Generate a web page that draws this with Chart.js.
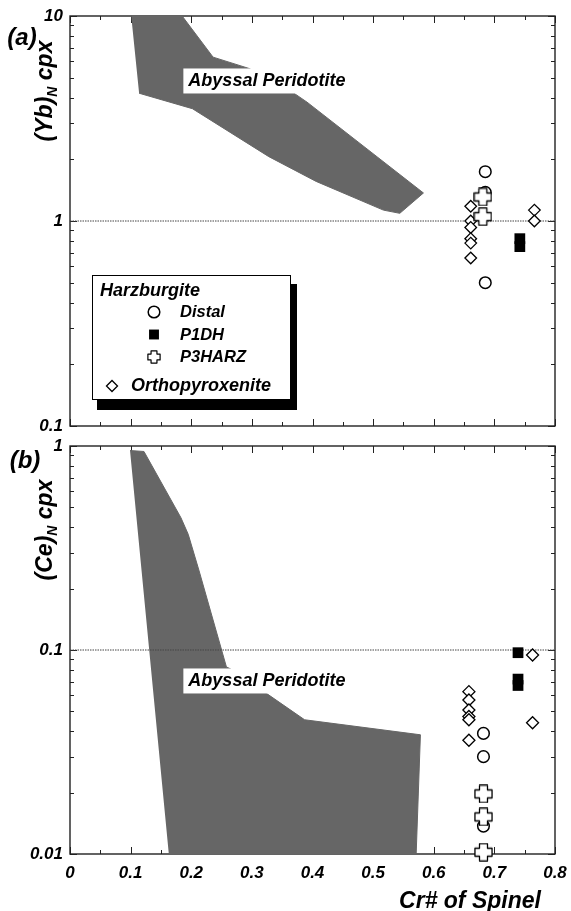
<!DOCTYPE html>
<html><head><meta charset="utf-8">
<script src="https://cdn.jsdelivr.net/npm/chart.js@4/dist/chart.umd.min.js"></script>
<style>
html,body{margin:0;padding:0;background:#fff;}
#wrap{position:relative;width:571px;height:911px;overflow:hidden;}
#a{position:absolute;left:0;top:0;}
#b{position:absolute;left:0;top:430px;}
</style></head><body>
<div id="wrap"><canvas id="a" width="571" height="440"></canvas><canvas id="b" width="571" height="481"></canvas></div>
<script>
// ---------- data ----------
const xTickLabels = ['0','0.1','0.2','0.3','0.4','0.5','0.6','0.7','0.8'];
const yTickLabelsA = ['0.1','1','10'];
const yTickLabelsB = ['0.01','0.1','1'];

// Panel (a): (Yb)N cpx
const abyssalAX = [0.101,0.185,0.236,0.295,0.35,0.391,0.583,0.544,0.517,0.406,0.328,0.202,0.114];
const abyssalAY = [10,10,6.3,5.55,4.6,3.8,1.37,1.09,1.13,1.56,2.06,3.53,4.2];
const distalAX = [0.685,0.685,0.685];
const distalAY = [1.74,1.38,0.50];
const p1dhAX = [0.742,0.742];
const p1dhAY = [0.82,0.75];
const p3harzAX = [0.681,0.681];
const p3harzAY = [1.31,1.05];
const orthoAX = [0.661,0.661,0.661,0.661,0.661,0.661,0.766,0.766];
const orthoAY = [1.18,1.0,0.93,0.82,0.78,0.66,1.13,1.0];
const refLineA = 1;

// Panel (b): (Ce)N cpx
const abyssalBX = [0.099,0.122,0.183,0.195,0.213,0.258,0.264,0.324,0.387,0.578,0.571,0.163];
const abyssalBY = [0.95,0.94,0.445,0.369,0.244,0.0826,0.081,0.0613,0.0455,0.0384,0.01,0.01];
const distalBX = [0.682,0.682,0.682];
const distalBY = [0.039,0.030,0.0137];
const p1dhBX = [0.739,0.739,0.739];
const p1dhBY = [0.097,0.072,0.067];
const p3harzBX = [0.682,0.682,0.682];
const p3harzBY = [0.0197,0.0152,0.0102];
const orthoBX = [0.658,0.658,0.658,0.658,0.658,0.658,0.763,0.763];
const orthoBY = [0.0625,0.0569,0.0508,0.0472,0.0455,0.0361,0.0945,0.044];
const refLineB = 0.1;

const xMin = 0, xMax = 0.8;

// ---------- helpers ----------
const FONT = "'Liberation Sans', Arial, Helvetica, sans-serif";
const pts = (xs, ys) => xs.map((x, i) => ({x: x, y: ys[i]}));

function makeCross(size, lw) {
  const c = document.createElement('canvas');
  c.width = size; c.height = size;
  const g = c.getContext('2d');
  const h = size / 2, a = size * 0.21, o = h - lw / 2 - 0.3;
  const p = [[-a,-o],[a,-o],[a,-a],[o,-a],[o,a],[a,a],[a,o],[-a,o],[-a,a],[-o,a],[-o,-a],[-a,-a]];
  g.beginPath();
  p.forEach((q, i) => { if (i === 0) g.moveTo(h + q[0], h + q[1]); else g.lineTo(h + q[0], h + q[1]); });
  g.closePath();
  g.fillStyle = '#fff'; g.fill();
  g.lineWidth = lw; g.strokeStyle = '#000'; g.lineJoin = 'round'; g.stroke();
  return c;
}
const crossBig = makeCross(19, 1.3);
const crossSmall = makeCross(14, 1.2);

function logTickValues(minE, maxE) {
  const out = [];
  for (let d = minE; d < maxE; d++) {
    for (let k = 1; k <= 9; k++) out.push(parseFloat((k * Math.pow(10, d)).toPrecision(6)));
  }
  out.push(Math.pow(10, maxE));
  return out;
}
function isPow10(v) { const e = Math.log10(v); return Math.abs(e - Math.round(e)) < 1e-6; }
function xTickValues() { const out = []; for (let i = 0; i <= 16; i++) out.push(Math.round(i * 5) / 100); return out; }

const frameTicks = {
  id: 'frameTicks',
  beforeDatasetsDraw(chart) {
    const ctx = chart.ctx, ca = chart.chartArea, x = chart.scales.x, y = chart.scales.y;
    ctx.save();
    ctx.strokeStyle = '#222'; ctx.lineWidth = 1;
    const line = (a, b, c, d) => { ctx.beginPath(); ctx.moveTo(a, b); ctx.lineTo(c, d); ctx.stroke(); };
    x.ticks.forEach((t, i) => {
      const px = Math.round(x.getPixelForValue(t.value)) + 0.5;
      const L = (i % 2 === 0) ? 7 : 4;
      line(px, ca.top, px, ca.top + L);
      line(px, ca.bottom, px, ca.bottom - L);
    });
    y.ticks.forEach(t => {
      const py = Math.round(y.getPixelForValue(t.value)) + 0.5;
      const L = isPow10(t.value) ? 7 : 4;
      line(ca.left, py, ca.left + L, py);
      line(ca.right, py, ca.right - L, py);
    });
    ctx.lineWidth = 1.4; ctx.strokeStyle = '#222';
    ctx.strokeRect(ca.left, ca.top, ca.right - ca.left, ca.bottom - ca.top);
    ctx.restore();
  }
};

function yTitle(ctx, cx, cy, main, sub, rest) {
  ctx.save();
  ctx.translate(cx, cy);
  ctx.rotate(-Math.PI / 2);
  ctx.fillStyle = '#000';
  ctx.textBaseline = 'alphabetic';
  ctx.textAlign = 'left';
  const f1 = "italic bold 23px " + FONT, f2 = "italic bold 14px " + FONT;
  ctx.font = f1; const w1 = ctx.measureText(main).width;
  ctx.font = f2; const w2 = ctx.measureText(sub).width;
  ctx.font = f1; const w3 = ctx.measureText(rest).width;
  let s = -(w1 + w2 + w3) / 2;
  ctx.font = f1; ctx.fillText(main, s, 0);
  ctx.font = f2; ctx.fillText(sub, s + w1, 5);
  ctx.font = f1; ctx.fillText(rest, s + w1 + w2, 0);
  ctx.restore();
}
function plainText(ctx, txt, x, y, size, align) {
  ctx.save();
  ctx.font = "italic bold " + size + "px " + FONT;
  ctx.fillStyle = '#000';
  ctx.textAlign = align || 'left';
  ctx.textBaseline = 'middle';
  ctx.fillText(txt, x, y);
  ctx.restore();
}
function labelBox(chart, xv0, xv1, yv, txt) {
  const ctx = chart.ctx, x = chart.scales.x, y = chart.scales.y;
  const px0 = x.getPixelForValue(xv0), px1 = x.getPixelForValue(xv1), py = y.getPixelForValue(yv);
  ctx.save();
  ctx.fillStyle = '#fff';
  ctx.fillRect(px0, py - 12.5, px1 - px0, 25);
  ctx.restore();
  plainText(ctx, txt, px0 + 5, py + 0.5, 18, 'left');
}

function baseOptions(yMinE, yMaxE, yLabels, showX, xHeight) {
  const tickFont = {family: FONT, size: 17, style: 'italic', weight: 'bold'};
  return {
    responsive: false,
    animation: false,
    events: [],
    layout: {padding: {top: 16, right: 16, left: 0, bottom: 0}},
    plugins: {legend: {display: false}, tooltip: {enabled: false}},
    scales: {
      x: {
        type: 'linear', min: xMin, max: xMax,
        grid: {display: false, drawTicks: false},
        border: {display: false},
        afterBuildTicks: s => { s.ticks = xTickValues().map(v => ({value: v})); },
        afterFit: s => { s.height = xHeight; s.paddingLeft = 0; s.paddingRight = 0; s.paddingTop = 0; s.paddingBottom = 0; },
        ticks: {
          display: showX, autoSkip: false, maxRotation: 0, padding: 9, color: '#000', font: tickFont,
          callback: (v, i) => (i % 2 === 0 ? xTickLabels[i / 2] : '')
        }
      },
      y: {
        type: 'logarithmic', min: Math.pow(10, yMinE), max: Math.pow(10, yMaxE),
        grid: {display: false, drawTicks: false},
        border: {display: false},
        afterBuildTicks: s => { s.ticks = logTickValues(yMinE, yMaxE).map(v => ({value: v})); },
        afterFit: s => { s.width = 70; s.paddingTop = 0; s.paddingBottom = 0; s.paddingLeft = 0; s.paddingRight = 0; },
        ticks: {
          autoSkip: false, padding: 7, color: '#000', font: tickFont,
          callback: v => (isPow10(v) ? yLabels[Math.round(Math.log10(v)) - yMinE] : '')
        }
      }
    }
  };
}

function datasets(polyX, polyY, refY, dX, dY, pX, pY, cX, cY, oX, oY, big) {
  return [
    {type: 'line', data: pts(polyX, polyY), fill: 'shape', backgroundColor: '#666666', borderColor: '#666666',
     borderWidth: 1, pointRadius: 0, tension: 0, order: 10},
    {type: 'line', data: [{x: xMin, y: refY}, {x: xMax, y: refY}], borderColor: '#444', borderWidth: 1,
     borderDash: [1.5, 1], pointRadius: 0, fill: false, order: 9},
    {type: 'scatter', data: pts(oX, oY), pointStyle: 'rectRot', pointRadius: big ? 6 : 5.8, backgroundColor: '#fff',
     borderColor: '#000', pointBorderWidth: 1.3, order: 5, clip: false},
    {type: 'scatter', data: pts(dX, dY), pointStyle: 'circle', pointRadius: 5.8, backgroundColor: '#fff',
     borderColor: '#000', pointBorderWidth: 1.5, order: 4, clip: false},
    {type: 'scatter', data: pts(pX, pY), pointStyle: 'rect', pointRadius: 7.6, backgroundColor: '#000',
     borderColor: '#000', pointBorderWidth: 0, order: 3, clip: false},
    {type: 'scatter', data: pts(cX, cY), pointStyle: crossBig, order: 2, clip: false}
  ];
}

// ---------- panel (a) ----------
const annotA = {
  id: 'annotA',
  afterDatasetsDraw(chart) {
    labelBox(chart, 0.187, 0.468, 4.82, 'Abyssal Peridotite');
  },
  afterDraw(chart) {
    const ctx = chart.ctx;
    yTitle(ctx, 52, 91, '(Yb)', 'N', ' cpx');
    plainText(ctx, '(a)', 22, 38, 24, 'center');
    // legend
    ctx.save();
    ctx.fillStyle = '#000';
    ctx.fillRect(97, 284, 200, 126);
    ctx.fillStyle = '#fff';
    ctx.fillRect(92, 275, 199, 125);
    ctx.strokeStyle = '#000'; ctx.lineWidth = 1;
    ctx.strokeRect(92.5, 275.5, 198, 124);
    ctx.restore();
    plainText(ctx, 'Harzburgite', 100, 291, 18, 'left');
    const H = Chart.helpers;
    ctx.save();
    ctx.fillStyle = '#fff'; ctx.strokeStyle = '#000'; ctx.lineWidth = 1.5;
    H.drawPoint(ctx, {pointStyle: 'circle', radius: 5.8, rotation: 0, borderWidth: 1.5}, 154, 312);
    ctx.fillStyle = '#000'; ctx.lineWidth = 0;
    H.drawPoint(ctx, {pointStyle: 'rect', radius: 7, rotation: 0, borderWidth: 0}, 154, 334.5);
    H.drawPoint(ctx, {pointStyle: crossSmall, radius: 7, rotation: 0, borderWidth: 0}, 154, 357);
    ctx.fillStyle = '#fff'; ctx.strokeStyle = '#000'; ctx.lineWidth = 1.3;
    H.drawPoint(ctx, {pointStyle: 'rectRot', radius: 5.5, rotation: 0, borderWidth: 1.3}, 112, 386);
    ctx.restore();
    plainText(ctx, 'Distal', 180, 312.5, 16.5, 'left');
    plainText(ctx, 'P1DH', 180, 335, 16.5, 'left');
    plainText(ctx, 'P3HARZ', 180, 357.5, 16.5, 'left');
    plainText(ctx, 'Orthopyroxenite', 131, 386, 18, 'left');
  }
};

new Chart(document.getElementById('a'), {
  type: 'scatter',
  data: {datasets: datasets(abyssalAX, abyssalAY, refLineA, distalAX, distalAY, p1dhAX, p1dhAY, p3harzAX, p3harzAY, orthoAX, orthoAY, false)},
  options: baseOptions(-1, 1, yTickLabelsA, false, 14),
  plugins: [frameTicks, annotA]
});

// ---------- panel (b) ----------
const annotB = {
  id: 'annotB',
  afterDatasetsDraw(chart) {
    labelBox(chart, 0.187, 0.465, 0.0705, 'Abyssal Peridotite');
  },
  afterDraw(chart) {
    const ctx = chart.ctx;
    yTitle(ctx, 52, 100, '(Ce)', 'N', ' cpx');
    plainText(ctx, '(b)', 25, 31, 24, 'center');
    plainText(ctx, 'Cr# of Spinel', 470, 472, 23, 'center');
  }
};

new Chart(document.getElementById('b'), {
  type: 'scatter',
  data: {datasets: datasets(abyssalBX, abyssalBY, refLineB, distalBX, distalBY, p1dhBX, p1dhBY, p3harzBX, p3harzBY, orthoBX, orthoBY, true)},
  options: baseOptions(-2, 0, yTickLabelsB, true, 57),
  plugins: [frameTicks, annotB]
});
</script>
</body></html>
